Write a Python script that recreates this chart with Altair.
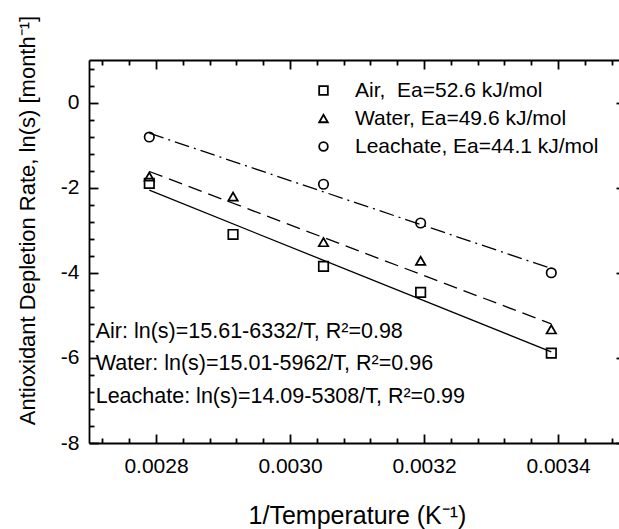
import altair as alt
import pandas as pd

FONT = "Liberation Sans"

# ---- data ----
inv_T = [0.00279, 0.002915, 0.00305, 0.003195, 0.00339]
air = [-1.90, -3.10, -3.85, -4.46, -5.89]
water = [-1.74, -2.21, -3.28, -3.72, -5.33]
leach_T = [0.00279, 0.00305, 0.003195, 0.00339]
leachate = [-0.81, -1.92, -2.83, -4.00]

fit_T = [0.00279, 0.00339]
air_fit = [-2.06, -5.86]
water_fit = [-1.62, -5.20]
leach_fit = [-0.72, -3.90]

series_labels = ["Air,\u00a0 Ea=52.6 kJ/mol", "Water, Ea=49.6 kJ/mol", "Leachate, Ea=44.1 kJ/mol"]
series_shapes = ["square", "triangle-up", "circle"]

ann_text = ["Air: ln(s)=15.61-6332/T, R\u00b2=0.98",
            "Water: ln(s)=15.01-5962/T, R\u00b2=0.96",
            "Leachate: ln(s)=14.09-5308/T, R\u00b2=0.99"]
ann_x = [0.00271, 0.00271, 0.00271]
ann_y = [-5.54, -6.29, -7.07]

x_major = [0.0028, 0.0030, 0.0032, 0.0034]
x_minor = [0.00272, 0.00276, 0.00284, 0.00288, 0.00292, 0.00296, 0.00304, 0.00308,
           0.00312, 0.00316, 0.00324, 0.00328, 0.00332, 0.00336, 0.00344, 0.00348]
y_major = [-8, -6, -4, -2, 0]
y_minor = [-7.6, -7.2, -6.8, -6.4, -5.6, -5.2, -4.8, -4.4, -3.6, -3.2, -2.8, -2.4,
           -1.6, -1.2, -0.8, -0.4, 0.4, 0.8]

x_title = "1/Temperature (K\u207b\u00b9)"
y_title = "Antioxidant Depletion Rate, ln(s) [month\u207b\u00b9]"

# ---- tables ----
pts = pd.DataFrame({
    "x": inv_T + inv_T + leach_T,
    "y": air + water + leachate,
    "series": [series_labels[0]] * len(inv_T) + [series_labels[1]] * len(inv_T) + [series_labels[2]] * len(leach_T),
})
air_df = pd.DataFrame({"x": fit_T, "y": air_fit})
water_df = pd.DataFrame({"x": fit_T, "y": water_fit})
leach_df = pd.DataFrame({"x": fit_T, "y": leach_fit})
ann_df = pd.DataFrame({"x": ann_x, "y": ann_y, "t": ann_text})


def xsc():
    return alt.Scale(domain=[0.0027, 0.0035], range=[0, 536], nice=False, zero=False)


def ysc():
    return alt.Scale(domain=[-8, 1], nice=False, zero=False)


# ---- axes ----
ax_b_dom = alt.Axis(orient="bottom", ticks=False, labels=False, domain=True, grid=False,
                    title=x_title, titleFontSize=25, titleY=80, titleBaseline="alphabetic")
ax_b_maj = alt.Axis(orient="bottom", values=x_major, tickSize=9, offset=-9, domain=False, grid=False,
                    labelPadding=12, format=".4f", title=None)
ax_b_min = alt.Axis(orient="bottom", values=x_minor, tickSize=5, offset=-5, domain=False, grid=False,
                    labels=False, title=None)
ax_t_dom = alt.Axis(orient="top", ticks=False, labels=False, domain=True, grid=False, title=None)
ax_t_maj = alt.Axis(orient="top", values=x_major, tickSize=9, offset=-9, domain=False, grid=False,
                    labels=False, title=None)
ax_t_min = alt.Axis(orient="top", values=x_minor, tickSize=5, offset=-5, domain=False, grid=False,
                    labels=False, title=None)

ay_l_dom = alt.Axis(orient="left", ticks=False, labels=False, domain=True, grid=False,
                    title=y_title, titleFontSize=22, titleAngle=270, titleX=-54.5, titleY=160,
                    titleBaseline="alphabetic", titleAlign="center")
ay_l_maj = alt.Axis(orient="left", values=y_major, tickSize=9, offset=-9, domain=False, grid=False,
                    labelPadding=10, labelExpr="'' + datum.value", title=None)
ay_l_min = alt.Axis(orient="left", values=y_minor, tickSize=5, offset=-5, domain=False, grid=False,
                    labels=False, title=None)
ay_r_maj = alt.Axis(orient="right", values=y_major, tickSize=9, offset=-3, domain=False, grid=False,
                    labels=False, title=None)

# ---- layers ----
l_air = alt.Chart(air_df).mark_line(color="black", strokeWidth=1.3).encode(
    x=alt.X("x:Q", scale=xsc(), axis=ax_b_dom),
    y=alt.Y("y:Q", scale=ysc(), axis=ay_l_dom),
)
l_water = alt.Chart(water_df).mark_line(color="black", strokeWidth=1.3, strokeDash=[14, 7]).encode(
    x=alt.X("x:Q", scale=xsc(), axis=ax_b_maj),
    y=alt.Y("y:Q", scale=ysc(), axis=ay_l_maj),
)
l_leach = alt.Chart(leach_df).mark_line(color="black", strokeWidth=1.3, strokeDash=[15, 5, 2, 5]).encode(
    x=alt.X("x:Q", scale=xsc(), axis=ax_b_min),
    y=alt.Y("y:Q", scale=ysc(), axis=ay_l_min),
)
l_pts = alt.Chart(pts).mark_point(filled=False, color="black", size=90, strokeWidth=1.7, opacity=1).encode(
    x=alt.X("x:Q", scale=xsc(), axis=ax_t_dom),
    y=alt.Y("y:Q", scale=ysc(), axis=ay_r_maj),
    shape=alt.Shape("series:N", scale=alt.Scale(domain=series_labels, range=series_shapes),
                    legend=alt.Legend(orient="none", legendX=224, legendY=20, title=None,
                                      labelFontSize=21, labelFont=FONT, labelColor="black",
                                      labelLimit=400, labelOffset=21, rowPadding=6, padding=0,
                                      symbolSize=75, symbolStrokeWidth=1.8,
                                      symbolStrokeColor="black", symbolFillColor="transparent")),
)

ann_axes = [ax_t_maj, ax_t_min, None]
ann_layers = []
for i in range(len(ann_text)):
    ann_layers.append(
        alt.Chart(ann_df.iloc[[i]]).mark_text(align="left", baseline="alphabetic", fontSize=21.5,
                                              font=FONT, color="black").encode(
            x=alt.X("x:Q", scale=xsc(), axis=ann_axes[i]),
            y=alt.Y("y:Q", scale=ysc(), axis=None),
            text="t:N",
        )
    )

chart = alt.layer(l_air, l_water, l_leach, l_pts, *ann_layers).resolve_scale(
    x="independent", y="independent"
).properties(
    width=530, height=383,
    autosize=alt.AutoSizeParams(type="none"),
    padding={"left": 89, "top": 60, "right": 0, "bottom": 86},
    background="white",
).configure_view(stroke=None).configure_axis(
    labelFont=FONT, labelFontSize=21, labelColor="black",
    titleFont=FONT, titleColor="black", titleFontWeight="normal",
    tickColor="black", domainColor="black", tickWidth=1.8, domainWidth=1.8,
)

chart.save("out.html", embed_options={"renderer": "svg", "actions": False})
